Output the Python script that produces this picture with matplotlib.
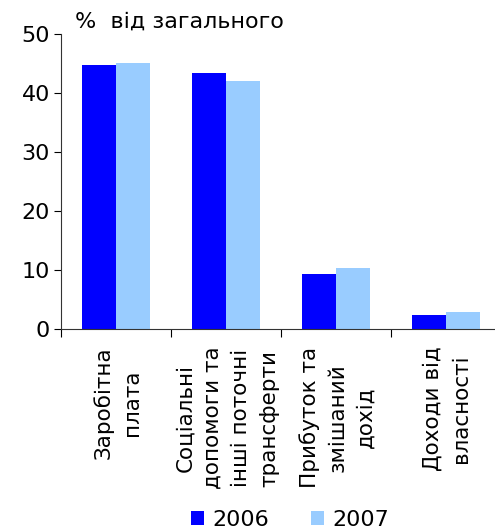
import numpy as np
import matplotlib.pyplot as plt

categories = ["Заробітна\nплата",
              "Соціальні\nдопомоги та\nінші поточні\nтрансферти",
              "Прибуток та\nзмішаний\nдохід",
              "Доходи від\nвласності"]
years = ["2006", "2007"]
v2006 = [44.8, 43.4, 9.3, 2.3]
v2007 = [45.1, 42.1, 10.3, 2.8]
colors = ["#0000FF", "#99CCFF"]

fig = plt.figure(figsize=(4.95, 5.31), dpi=100)
ax = fig.add_axes([61 / 495, 1 - 329 / 531, 440 / 495, 295 / 531])

x = np.arange(len(categories))
w = 0.305
ax.bar(x - w / 2, v2006, w, color=colors[0], label=years[0])
ax.bar(x + w / 2, v2007, w, color=colors[1], label=years[1])

ax.set_xlim(-0.5, len(categories) - 0.5)
ax.set_ylim(0, 50)
ax.set_yticks(range(0, 51, 10))
ax.tick_params(axis="y", labelsize=16, length=5, direction="out", pad=3)

ax.set_xticks(np.arange(len(categories) + 1) - 0.5)
ax.set_xticklabels([])
ax.tick_params(axis="x", length=6, direction="out")
for i, lab in enumerate(categories):
    ax.text(i + 0.01, -3, lab, rotation=90, ha="center", va="top", fontsize=15.5,
            linespacing=1.5, transform=ax.transData)

for s in ["top", "right"]:
    ax.spines[s].set_visible(False)
for s in ["left", "bottom"]:
    ax.spines[s].set_color("#333333")

fig.text(75 / 495, 1 - 22 / 531, "%  від загального", fontsize=16, va="center")

ax.legend(loc="center", bbox_to_anchor=(290 / 495, 1 - 520 / 531),
          bbox_transform=fig.transFigure, ncol=2, frameon=False, fontsize=16,
          handlelength=0.6, handleheight=0.6, columnspacing=1.9, handletextpad=0.35)

fig.savefig("out.png", dpi=100)
